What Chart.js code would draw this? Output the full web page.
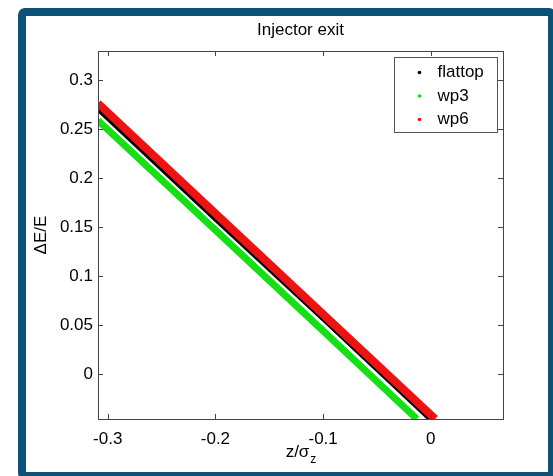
<!DOCTYPE html>
<html>
<head>
<meta charset="utf-8">
<title>Injector exit</title>
<script src="https://cdn.jsdelivr.net/npm/chart.js@4.4.0/dist/chart.umd.min.js"></script>
<style>
    html, body { margin: 0; padding: 0; background: #fff; }
    #wrap { position: relative; width: 553px; height: 476px; overflow: hidden; }
    #frame {
        position: absolute; left: 18px; top: 8px; width: 522px; height: 456px;
        border: 8px solid #0c5278; border-radius: 7px; pointer-events: none;
    }
    canvas { position: absolute; left: 0; top: 0; }
</style>
</head>
<body>
<div id="wrap">
    <canvas id="exitChart" width="553" height="476"></canvas>
    <div id="frame"></div>
</div>
<script>
// Longitudinal phase space at injector exit (dE/E vs z/sigma_z)
const zFlattop = [-0.309, -0.2, -0.1, -0.001];
const dFlattop = [0.2704, 0.158, 0.056, -0.046];

const zWp3 = [-0.309, -0.2, -0.1, -0.013];
const dWp3 = [0.259, 0.147, 0.044, -0.046];

const zWp6 = [-0.309, -0.2, -0.1, 0.004];
const dWp6 = [0.2765, 0.164, 0.061, -0.046];

const xTicks = [-0.3, -0.2, -0.1, 0];
const yTicks = [0, 0.05, 0.1, 0.15, 0.2, 0.25, 0.3];

const FONT = "'Liberation Sans', Arial, sans-serif";

function pts(xs, ys) {
    return xs.map((x, i) => ({ x: x, y: ys[i] }));
}

// MATLAB style box: inward ticks on all four sides, axis outline, legend, title and axis labels
const matlabAxes = {
    id: 'matlabAxes',
    afterDatasetsDraw(chart) {
        const { ctx, chartArea: a, scales } = chart;
        const len = 5;
        ctx.save();
        ctx.strokeStyle = '#444';
        ctx.lineWidth = 1;
        ctx.beginPath();
        xTicks.forEach(v => {
            const px = Math.round(scales.x.getPixelForValue(v)) + 0.5;
            ctx.moveTo(px, a.bottom); ctx.lineTo(px, a.bottom - len);
            ctx.moveTo(px, a.top); ctx.lineTo(px, a.top + len);
        });
        yTicks.forEach(v => {
            const py = Math.round(scales.y.getPixelForValue(v)) + 0.5;
            ctx.moveTo(a.left, py); ctx.lineTo(a.left + len, py);
            ctx.moveTo(a.right, py); ctx.lineTo(a.right - len, py);
        });
        ctx.stroke();
        ctx.strokeRect(Math.round(a.left) + 0.5, Math.round(a.top) + 0.5,
            Math.round(a.right - a.left), Math.round(a.bottom - a.top));

        // legend
        const bw = 103, bh = 75;
        const bx = Math.round(a.right - 6 - bw) + 0.5, by = Math.round(a.top + 6) + 0.5;
        ctx.fillStyle = '#fff';
        ctx.fillRect(bx, by, bw, bh);
        ctx.strokeStyle = '#555';
        ctx.strokeRect(bx, by, bw, bh);
        ctx.font = '17px ' + FONT;
        ctx.textBaseline = 'middle';
        chart.data.datasets.slice().sort((p, q) => p.legendIndex - q.legendIndex).forEach((ds, i) => {
            const cy = by + 15 + i * 23.5;
            ctx.fillStyle = ds.borderColor;
            ctx.beginPath();
            ctx.arc(bx + 25, cy, 1.8, 0, Math.PI * 2);
            ctx.fill();
            ctx.fillStyle = '#000';
            ctx.textAlign = 'left';
            ctx.fillText(ds.label, bx + 43, cy);
        });

        // title over the axes box
        ctx.fillStyle = '#000';
        ctx.font = '17px ' + FONT;
        ctx.textAlign = 'center';
        ctx.textBaseline = 'middle';
        ctx.fillText('Injector exit', (a.left + a.right) / 2, 30);

        // y axis label
        ctx.save();
        ctx.translate(41, (a.top + a.bottom) / 2);
        ctx.rotate(-Math.PI / 2);
        ctx.fillText('\u0394E/E', 0, 0);
        ctx.restore();

        // x axis label with subscript
        const main = 'z/\u03c3', sub = 'z';
        ctx.font = '17px ' + FONT;
        const wMain = ctx.measureText(main).width;
        ctx.font = '12px ' + FONT;
        const wSub = ctx.measureText(sub).width;
        const x0 = (a.left + a.right) / 2 - (wMain + wSub) / 2;
        ctx.textAlign = 'left';
        ctx.textBaseline = 'alphabetic';
        ctx.font = '17px ' + FONT;
        ctx.fillText(main, x0, 457);
        ctx.font = '12px ' + FONT;
        ctx.fillText(sub, x0 + wMain + 1, 463);
        ctx.restore();
    }
};

const ctx = document.getElementById('exitChart');

new Chart(ctx, {
    type: 'scatter',
    data: {
        datasets: [
            {
                label: 'flattop', legendIndex: 0, order: 1,
                data: pts(zFlattop, dFlattop),
                borderColor: '#000000', backgroundColor: '#000000',
                borderWidth: 4.5, showLine: true, pointRadius: 0
            },
            {
                label: 'wp3', legendIndex: 1, order: 2,
                data: pts(zWp3, dWp3),
                borderColor: '#14e014', backgroundColor: '#14e014',
                borderWidth: 7, showLine: true, pointRadius: 0
            },
            {
                label: 'wp6', legendIndex: 2, order: 0,
                data: pts(zWp6, dWp6),
                borderColor: '#ee1212', backgroundColor: '#ee1212',
                borderWidth: 8, showLine: true, pointRadius: 0
            }
        ]
    },
    options: {
        responsive: false,
        animation: false,
        layout: { padding: { left: 0, right: 50, top: 51, bottom: 0 } },
        elements: { line: { tension: 0, borderCapStyle: 'butt' } },
        plugins: {
            legend: { display: false },
            tooltip: { enabled: false },
            title: { display: false }
        },
        scales: {
            x: {
                type: 'linear',
                min: -0.309,
                max: 0.067,
                afterFit: s => { s.height = 57; },
                afterBuildTicks: s => { s.ticks = xTicks.map(v => ({ value: v })); },
                grid: { display: false, drawTicks: false },
                border: { display: false },
                ticks: {
                    color: '#000',
                    padding: 10,
                    font: { family: FONT, size: 17 },
                    callback: v => String(v)
                }
            },
            y: {
                type: 'linear',
                min: -0.046,
                max: 0.33,
                afterFit: s => { s.width = 98; },
                afterBuildTicks: s => { s.ticks = yTicks.map(v => ({ value: v })); },
                grid: { display: false, drawTicks: false },
                border: { display: false },
                ticks: {
                    color: '#000',
                    padding: 5,
                    font: { family: FONT, size: 17 },
                    callback: v => String(v)
                }
            }
        }
    },
    plugins: [matlabAxes]
});
</script>
</body>
</html>
